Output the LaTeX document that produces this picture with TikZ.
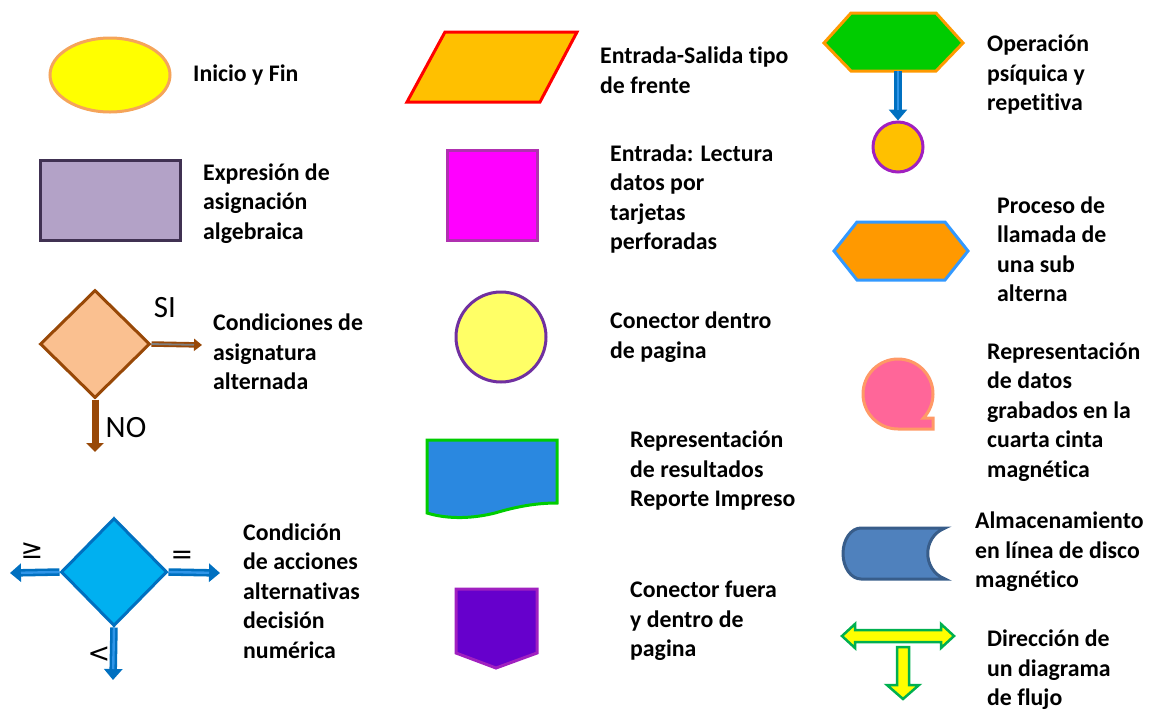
\documentclass[tikz,border=0pt]{standalone}
\usepackage{fontspec}
\setmainfont{Carlito}[Ligatures=NoCommon]
\newfontfamily\djv{DejaVu Sans}
\usetikzlibrary{shapes.geometric,arrows.meta}
\definecolor{cYel}{HTML}{FFFF00}
\definecolor{cEllB}{HTML}{F5A45A}
\definecolor{cLav}{HTML}{B3A2C7}
\definecolor{cLavB}{HTML}{403152}
\definecolor{cPeach}{HTML}{FAC090}
\definecolor{cBrown}{HTML}{984807}
\definecolor{cGrayL}{HTML}{7F7F7F}
\definecolor{cSky}{HTML}{00B0F0}
\definecolor{cBlueD}{HTML}{0070C0}
\definecolor{cBlueL}{HTML}{2F95E8}
\definecolor{cAmber}{HTML}{FFC000}
\definecolor{cRed}{HTML}{FF0000}
\definecolor{cMag}{HTML}{FF00FF}
\definecolor{cMagB}{HTML}{B030B0}
\definecolor{cLYel}{HTML}{FFFF66}
\definecolor{cPurp}{HTML}{7030A0}
\definecolor{cDoc}{HTML}{2A88E0}
\definecolor{cGreen}{HTML}{00CC00}
\definecolor{cViol}{HTML}{6600CC}
\definecolor{cViolB}{HTML}{A020C0}
\definecolor{cOrange}{HTML}{FF9900}
\definecolor{cHexB}{HTML}{3399FF}
\definecolor{cPink}{HTML}{FF6699}
\definecolor{cPinkB}{HTML}{FF9966}
\definecolor{cDisk}{HTML}{4F81BD}
\definecolor{cDiskB}{HTML}{385D8A}
\definecolor{cGreenB}{HTML}{00B050}
\begin{document}
\begin{tikzpicture}[x=1pt,y=-1pt,
  lbl/.style={font=\fontsize{23.8}{29.5}\selectfont\bfseries, align=left, anchor=west, inner sep=0pt},
  sym/.style={font=\fontsize{31}{34}\selectfont, inner sep=0pt},
  opsym/.style={font=\djv\fontsize{27}{30}\selectfont, inner sep=0pt},
  shp/.style={line width=3pt, line join=miter},
  bout/.style={draw=cBlueD, line width=7.5pt, -{Triangle[length=11pt,width=18pt]}},
  bin/.style={draw=cBlueL, line width=2.4pt, shorten >=11pt},
]
\useasboundingbox (0,0) rectangle (1157,713);

% ---- left column ----
\node[ellipse, shp, draw=cEllB, fill=cYel, minimum width=120pt, minimum height=74pt, inner sep=0pt] (ell) at (110,75) {};
\node[lbl] (t1) at (193,75) {Inicio y Fin};

\node[rectangle, shp, draw=cLavB, fill=cLav, minimum width=140pt, minimum height=80pt, inner sep=0pt] (rect) at (110,200) {};
\node[lbl] (t2) at (203,203.5) {Expresión de\\asignación\\algebraica};

\coordinate (d1e) at (202,345);
\coordinate (d1s) at (95,452);
\node[diamond, shp, draw=cBrown, fill=cPeach, minimum width=110pt, minimum height=108pt, inner sep=0pt] (d1) at (95,344) {};
\draw[draw=cBrown, line width=5.5pt, -{Triangle[length=8pt,width=12pt]}] (d1.east) -- (d1e);
\draw[draw=cGrayL, line width=1.8pt, shorten >=8pt] (d1.east) -- (d1e);
\draw[draw=cBrown, line width=7pt, -{Triangle[length=9pt,width=17pt]}] (d1.south) -- (d1s);
\node[sym] (si) at (165,308) {SI};
\node[sym] (no) at (126,428) {NO};
\node[lbl] (t3) at (213,352) {Condiciones de\\asignatura\\alternada};

\coordinate (d2w) at (10,573);
\coordinate (d2e) at (220,573);
\coordinate (d2s) at (113,680);
\node[diamond, shp, draw=cBlueD, fill=cSky, minimum width=106pt, minimum height=108pt, inner sep=0pt] (d2) at (114,572) {};
\draw[bout] (d2.west) -- (d2w);
\draw[bin] (d2.west) -- (d2w);
\draw[bout] (d2.east) -- (d2e);
\draw[bin] (d2.east) -- (d2e);
\draw[bout] (d2.south) -- (d2s);
\draw[bin] (d2.south) -- (d2s);
\node[opsym] (ge) at (32,551) {≥};
\node[opsym] (eq) at (182,557) {=};
\node[opsym] (lt) at (99,655) {<};
\node[lbl] (t4) at (243,591) {Condición\\de acciones\\alternativas\\decisión\\numérica};

% ---- middle column ----
\draw[shp, draw=cRed, fill=cAmber] (407,102) -- (445,32) -- (577,32) -- (540,102) -- cycle;
\node[lbl] (t5) at (600,70) {Entrada-Salida tipo\\de frente};

\node[rectangle, shp, draw=cMagB, fill=cMag, minimum width=90pt, minimum height=90pt, inner sep=0pt] (sq) at (492,195) {};
\node[lbl] (t6) at (610,199) {Entrada: Lectura\\datos por\\tarjetas\\perforadas};

\node[circle, shp, draw=cPurp, fill=cLYel, minimum size=90pt, inner sep=0pt] (circ) at (501,337) {};
\node[lbl] (t7) at (610,337) {Conector dentro\\de pagina};

\draw[shp, draw=cGreen, fill=cDoc] (427,440) -- (557,440) -- (557,503) .. controls (535,503) and (515,507) .. (495,513) .. controls (475,518) and (450,520) .. (427,513) -- cycle;
\node[lbl] (t8) at (630,471) {Representación\\de resultados\\Reporte Impreso};

\draw[shp, draw=cViolB, fill=cViol] (456,589) -- (537,589) -- (537,653) -- (496,668) -- (456,653) -- cycle;
\node[lbl] (t9) at (630,621) {Conector fuera\\y dentro de\\pagina};

% ---- right column ----
\draw[shp, draw=cOrange, fill=cGreen] (824,43) -- (851,13) -- (936,13) -- (963,43) -- (936,71) -- (851,71) -- cycle;
\coordinate (hexb) at (898,71);
\node[circle, shp, draw=cViolB, fill=cAmber, minimum size=50pt, inner sep=0pt] (sc) at (898,147) {};
\draw[bout] (hexb) -- (sc.north);
\draw[bin] (hexb) -- (sc.north);
\node[lbl] (t10) at (987,75) {Operación\\psíquica y\\repetitiva};

\draw[shp, draw=cHexB, fill=cOrange] (834,251) -- (857,222) -- (945,222) -- (968,251) -- (945,280) -- (857,280) -- cycle;
\node[lbl] (t11) at (997,249) {Proceso de\\llamada de\\una sub\\alterna};

\draw[shp, draw=cPinkB, fill=cPink] (898,429) arc[start angle=90, end angle=403.3, radius=35] -- (933,418) -- (933,429) -- cycle;
\node[lbl] (t12) at (987,412) {Representación\\de datos\\grabados en la\\cuarta cinta\\magnética};

\draw[shp, draw=cDiskB, fill=cDisk] (945,528) -- (861,528) arc[start angle=270, end angle=90, x radius=18, y radius=25.5] -- (945,579) .. controls (922,570) and (922,537) .. (945,528) -- cycle;
\node[lbl] (t13) at (975,552) {Almacenamiento\\en línea de disco\\magnético};

\draw[line width=2.5pt, draw=cGreenB, fill=cYel, line join=miter] (842,636) -- (855,624) -- (855,630) -- (941,630) -- (941,624) -- (954,636) -- (941,648) -- (941,642) -- (855,642) -- (855,648) -- cycle;
\draw[line width=2.5pt, draw=cGreenB, fill=cYel, line join=miter] (897,647) -- (909,647) -- (909,685) -- (919,685) -- (903,699) -- (887,685) -- (897,685) -- cycle;
\node[lbl] (t14) at (987,670) {Dirección de\\un diagrama\\de flujo};
\end{tikzpicture}
\end{document}
